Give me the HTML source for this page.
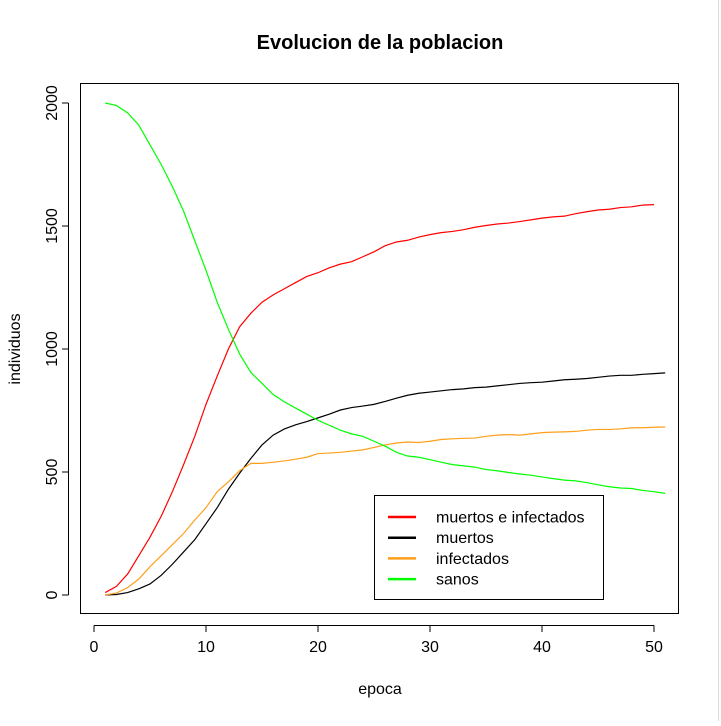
<!DOCTYPE html>
<html><head><meta charset="utf-8"><style>
body{margin:0;background:#fff;width:721px;height:721px;overflow:hidden}
svg{font-family:"Liberation Sans",Arial,sans-serif}
</style></head><body>
<svg width="721" height="721">
<rect x="0" y="0" width="721" height="721" fill="#fff"/>
<line x1="718.5" y1="0" x2="718.5" y2="721" stroke="#ddd"/>
<text x="380" y="49" text-anchor="middle" font-size="20" font-weight="bold">Evolucion de la poblacion</text>
<rect x="80.5" y="83.5" width="598" height="530" fill="none" stroke="#000"/>
<g id="axes"></g>
<g id="series"></g>
<text x="380" y="694" text-anchor="middle" font-size="16">epoca</text>
<text transform="translate(20,349) rotate(-90)" text-anchor="middle" font-size="16">individuos</text>
<g>
<rect x="374.5" y="495.5" width="229" height="104" fill="#fff" stroke="#000"/>
<g id="legend-items"></g>
</g>
</svg>
<script>
const epochs = Array.from({length:51},(_,i)=>i+1);
const xTicks = [0,10,20,30,40,50];
const yTicks = [0,500,1000,1500,2000];
const muertosInfectados = [10,35,85,160,235,320,420,530,645,775,890,1000,1090,1145,1190,1220,1245,1270,1295,1310,1330,1345,1355,1375,1395,1420,1435,1442,1455,1465,1473,1478,1485,1495,1502,1508,1512,1518,1525,1532,1537,1540,1550,1558,1565,1568,1575,1578,1585,1587];
const muertos = [0,2,10,25,45,80,125,175,225,290,355,430,495,555,610,650,675,692,705,720,735,752,762,768,775,787,800,812,820,825,830,835,838,843,845,850,855,860,863,865,870,875,877,880,885,890,893,893,897,900,903];
const infectados = [0,8,30,65,115,160,205,250,305,355,420,460,505,535,535,540,545,552,560,575,577,580,585,590,600,610,618,622,620,625,632,635,637,638,645,650,652,650,655,660,662,663,665,670,673,673,675,680,680,682,683];
const sanos = [2000,1990,1960,1910,1830,1750,1660,1560,1440,1320,1190,1080,980,905,860,815,785,760,735,710,690,670,655,645,625,605,580,565,560,550,540,530,525,520,510,505,498,492,487,480,473,467,464,457,448,440,435,433,425,420,413];
const seriesNames = ["muertos e infectados","muertos","infectados","sanos"];
const seriesColors = ["#ff0000","#000000","#ff9f1a","#00ff00"];
const seriesData = [muertosInfectados, muertos, infectados, sanos];

const NS="http://www.w3.org/2000/svg";
const X = v => 94 + v*11.2;
const Y = v => 595 - v*0.246;
const axes=document.getElementById('axes');
function mk(tag,attrs,parent){const e=document.createElementNS(NS,tag);for(const k in attrs)e.setAttribute(k,attrs[k]);parent.appendChild(e);return e;}
// x axis
let xl=mk('line',{x1:X(0),y1:625.5,x2:X(50),y2:625.5,stroke:'#000'},axes);


xTicks.forEach(t=>{
  const l=mk('line',{x1:X(t),y1:625.5,x2:X(t),y2:632,stroke:'#000'},axes);
  
  
  const tx=mk('text',{x:X(t),y:652,'text-anchor':'middle','font-size':16},axes);
  tx.textContent=t;
  
  
});
let yl=mk('line',{x1:68.5,y1:Y(0),x2:68.5,y2:Y(2000),stroke:'#000'},axes);


yTicks.forEach(t=>{
  const l=mk('line',{x1:62,y1:Y(t),x2:68.5,y2:Y(t),stroke:'#000'},axes);
  
  
  const tx=mk('text',{transform:`translate(57,${Y(t)}) rotate(-90)`,'text-anchor':'middle','font-size':16},axes);
  tx.textContent=t;
  
  
});
const sg=document.getElementById('series');
seriesData.forEach((d,i)=>{
  const pts=d.map((v,j)=>X(epochs[j])+','+Y(v)).join(' ');
  const p=mk('polyline',{points:pts,fill:'none',stroke:seriesColors[i],'stroke-width':1.2},sg);
  
  
});
const lg=document.getElementById('legend-items');
seriesNames.forEach((n,i)=>{
  const y=517+i*20.7;
  const l=mk('line',{x1:388,y1:y,x2:416,y2:y,stroke:seriesColors[i],'stroke-width':2.5},lg);
  
  
  const t=mk('text',{x:436,y:y+5.5,'font-size':16},lg);
  t.textContent=n;
  
  
});
</script>
</body></html>
